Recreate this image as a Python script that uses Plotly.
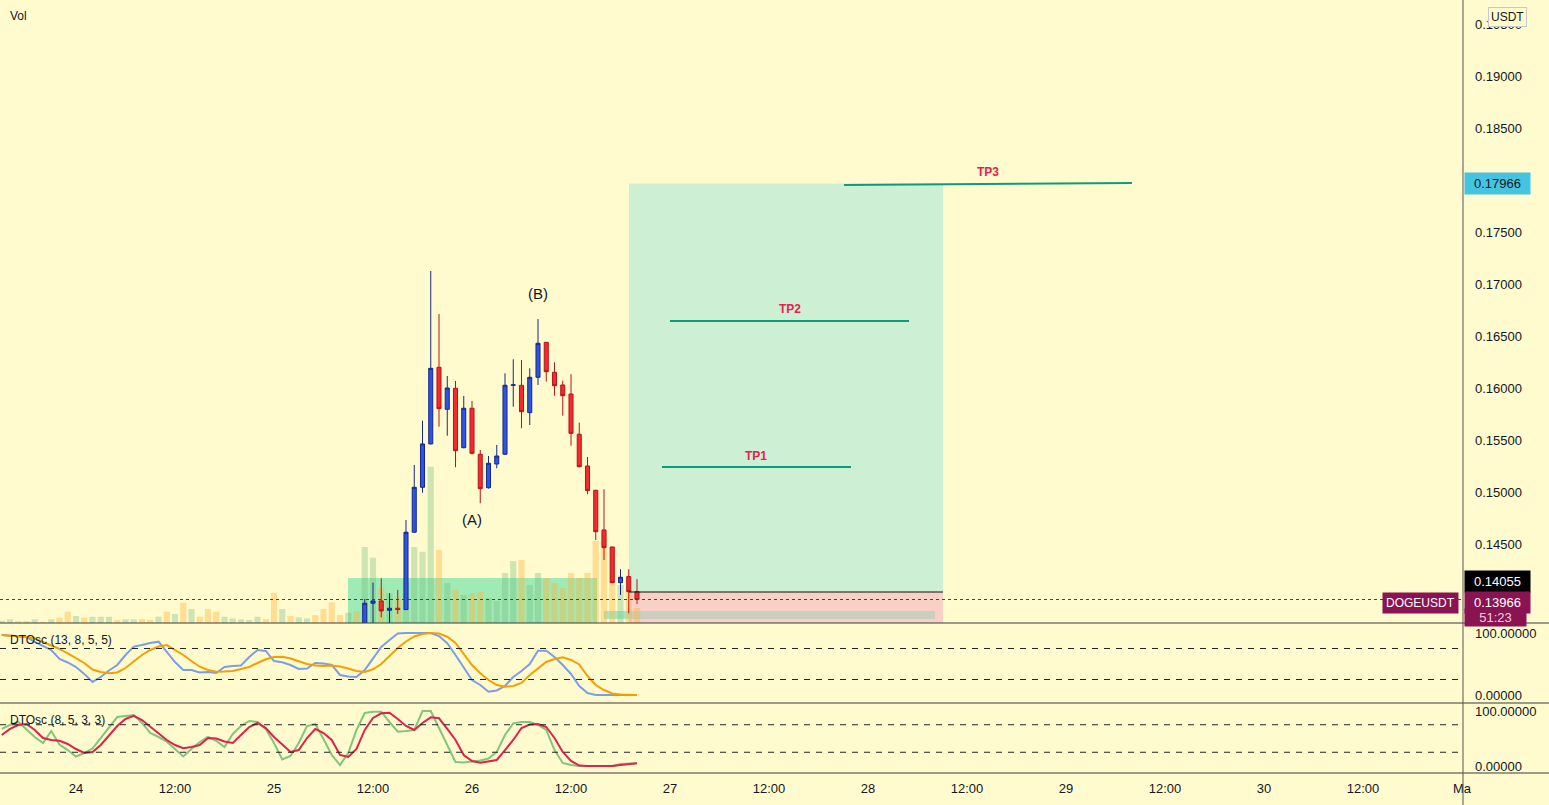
import pandas as pd
import plotly.graph_objects as go

# ---------------- data ----------------
BASE = pd.Timestamp("2024-04-24 00:00")
vol_hours = list(range(-9, 69))          # hourly bars visible on screen
times_all = [BASE + pd.Timedelta(hours=h) for h in vol_hours]

volume = [2.3, 3.7, 2.0, 2.0, 3.7, 1.3, 3.7, 5.3, 11.3,
          7.0, 5.3, 6.3, 6.3, 6.3, 3.0, 3.7, 3.7, 4.0, 3.0,
          6.3, 11.3, 9.0, 20.3, 14.0, 6.3, 14.0, 11.3, 6.3, 4.7,
          3.7, 3.0, 6.3, 4.0, 30.3, 14.0, 7.0, 5.7, 4.7, 8.0,
          14.0, 20.7, 8.0, 10.3, 12.0, 76.0, 65.3, 35.0, 30.0, 25.0,
          40.0, 76.0, 71.3, 156.3, 73.0, 40.0, 33.0, 28.0, 30.0, 31.0,
          25.0, 22.0, 50.0, 62.0, 63.0, 38.0, 50.0, 45.0, 40.0, 35.0,
          50.0, 45.0, 50.0, 82.0, 90.0, 76.0, 38.0, 33.0, 15.0]
vol_dir = ["u", "u", "d", "d", "u", "d", "u", "d", "d",
           "u", "d", "u", "u", "u", "d", "u", "u", "d", "d",
           "u", "d", "u", "d", "u", "d", "d", "d", "u", "u",
           "u", "u", "u", "d", "d", "u", "d", "u", "u", "d",
           "d", "d", "d", "u", "d", "u", "u", "d", "u", "d",
           "u", "u", "u", "u", "d", "u", "d", "u", "d", "d",
           "u", "u", "u", "u", "d", "u", "u", "d", "d", "d",
           "d", "d", "d", "d", "d", "d", "u", "d", "d"]

candle_times = times_all[44:]            # 25th 11:00 .. 26th 20:00
c_open = [0.13700, 0.13930, 0.13952, 0.13862, 0.13882, 0.13869, 0.14613, 0.15045, 0.15462,
          0.16199, 0.15795, 0.15997, 0.15426, 0.15805, 0.15363, 0.15041, 0.15269, 0.15363,
          0.16026, 0.16026, 0.15763, 0.16103, 0.16439, 0.16151, 0.16029, 0.15942, 0.15555,
          0.15250, 0.15016, 0.14635, 0.14471, 0.14128, 0.14186, 0.14042]
c_high = [0.13971, 0.14128, 0.14170, 0.14026, 0.14058, 0.14731, 0.15260, 0.15686, 0.17125,
          0.16712, 0.16115, 0.16067, 0.15923, 0.15875, 0.15404, 0.15346, 0.15452, 0.16141,
          0.16276, 0.16269, 0.16189, 0.16663, 0.16442, 0.16247, 0.16070, 0.16132, 0.15667,
          0.15337, 0.15020, 0.15026, 0.14475, 0.14257, 0.14257, 0.14161]
c_low = [0.13650, 0.13700, 0.13795, 0.13720, 0.13827, 0.13865, 0.14610, 0.14993, 0.15459,
         0.15628, 0.15541, 0.15238, 0.15420, 0.15360, 0.14891, 0.15032, 0.15228, 0.15356,
         0.15820, 0.15613, 0.15644, 0.16029, 0.16061, 0.15926, 0.15734, 0.15445, 0.15236,
         0.14978, 0.14538, 0.14346, 0.14122, 0.14010, 0.13833, 0.13923]
c_close = [0.13930, 0.13952, 0.13856, 0.13882, 0.13869, 0.14613, 0.15045, 0.15462, 0.16189,
           0.15801, 0.16000, 0.15397, 0.15805, 0.15372, 0.15032, 0.15276, 0.15346, 0.16026,
           0.16030, 0.15772, 0.16103, 0.16430, 0.16157, 0.16022, 0.15926, 0.15564, 0.15243,
           0.15013, 0.14618, 0.14465, 0.14128, 0.14180, 0.14042, 0.13966]

dto1_k = [96.8, 96, 95, 93.5, 85.5, 79, 72.6, 58, 52.4,
          45, 34, 21, 29, 39.5, 48.4, 64.5, 78, 80.6, 84,
          86, 69.4, 53.2, 40.3, 40.3, 36.3, 37, 35.5, 45.2, 46.8,
          47.6, 61.3, 72.6, 71, 54.8, 52.7, 48.4, 42, 42.7, 51.6,
          50.8, 48.4, 32.3, 29.8, 29, 40.3, 59.7, 77.4, 88.7, 99.2,
          100, 100, 100, 100, 95, 83.4, 64.5, 43.5, 24.2, 16.1,
          5.3, 7.3, 14.5, 29, 38.7, 50, 71.5, 71.5, 61.3, 48.4,
          33.9, 14.5, 3.2, 0, 0, 0, 0, 0, 0]
dto1_d = [96.8, 96, 95, 93.5, 91, 85.5, 80.6, 74.2, 67,
          59.7, 51.6, 41, 37, 35, 36.3, 43.5, 53.7, 64.5, 72.6,
          78.2, 80.6, 72.6, 64.5, 54.8, 45.6, 40.3, 37.6, 37.9, 38.7,
          42, 45.2, 51.6, 57.6, 61.3, 61.8, 58.9, 54, 50, 47.6,
          46.8, 47.6, 46, 42.7, 38.7, 37, 41.5, 50, 63, 75.8,
          86.3, 94.4, 98.4, 100, 99.2, 94, 83.9, 67, 48.4, 35,
          24.2, 16.1, 13.4, 14.5, 19.4, 32.3, 43.5, 53.2, 58, 60.8,
          56.5, 49.2, 30.6, 16.1, 8, 2.4, 0.8, 0, 0]
dto2_k = [67.3, 74.5, 80, 66.4, 52.7, 41.8, 63.6, 39, 29,
          17.3, 23.6, 31.8, 51, 69, 89, 91, 92.7, 78.2, 60,
          52.7, 44.2, 30.9, 17.3, 30.9, 43.6, 52.7, 45.5, 34.5, 58.2,
          72.7, 81.8, 80, 67.3, 41.8, 11.8, 18.2, 41.8, 72.7, 76.4,
          49, 20, 1.8, 23.6, 65.5, 96.4, 98.7, 98.7, 80, 62.4,
          63.6, 65.5, 100, 100, 69, 38.2, 7.3, 6.4, 8.2, 10,
          13.6, 25.5, 56.4, 77.6, 80, 80, 74.5, 65.5, 29, 5.5,
          1.8, 0, 0, 0, 0, 0, 3.6, 4.9, 4.9]
dto2_d = [56.4, 67.3, 74.5, 76.4, 65.5, 50.9, 47.3, 46, 40,
          30.9, 23.6, 25.5, 38.2, 56.4, 72.7, 85.5, 91, 83.6, 71.5,
          60, 47.3, 38.2, 32.2, 34.5, 38.2, 50.9, 50, 44.5, 41.8,
          56.4, 70.9, 78.2, 69, 52.7, 38.2, 25.5, 29, 50.9, 67.3,
          60, 47.3, 20, 16.4, 30.9, 65.5, 87.3, 95.8, 96.9, 85.5,
          72.7, 65.5, 78.2, 88.5, 86.7, 67.3, 47.3, 20, 9.1, 6,
          8.2, 10.9, 29, 47.3, 69, 75.5, 76.4, 70.9, 50.9, 25.5,
          9.1, 0.9, 0, 0, 0, 0, 1.8, 3.6, 4.9]

# 0.18000 is hidden behind the 0.17966 marker in the reference, so it is not listed
price_ticks = [0.145, 0.150, 0.155, 0.160, 0.165, 0.170, 0.175, 0.185, 0.190, 0.195]
x_tick_hours = [0, 12, 24, 36, 48, 60, 72, 84, 96, 108, 120, 132, 144, 156, 168]
x_tick_text = ["24", "12:00", "25", "12:00", "26", "12:00", "27", "12:00",
               "28", "12:00", "29", "12:00", "30", "12:00", "Ma"]

LAST_PRICE = 0.13966
ENTRY_LABEL = 0.14055
TARGET = 0.17966
ENTRY = 0.14038
STOP = 0.13600
TP1, TP2 = 0.15240, 0.16644
TP3_A, TP3_B = 0.17952, 0.17971

# ---------------- styling / layout ----------------
W, H = 1549, 805
BG = "#fffbcf"
TXT = "#131722"
FONT = "Liberation Sans"
XR = 1463 / W


def T(h):
    return str(BASE + pd.Timedelta(hours=h))


def py(px):
    return 1 - px / H


x_range = [T(-76 / 8.25), T((1463 - 76) / 8.25)]
D_MAIN = [py(623), 1]
D_OSC1 = [py(703), py(623)]
D_OSC2 = [py(773), py(703)]

fig = go.Figure()

vol_colors = ["rgba(120,190,130,0.36)" if d == "u" else "rgba(255,178,60,0.42)" for d in vol_dir]
fig.add_trace(go.Bar(x=times_all, y=volume, marker=dict(color=vol_colors, line=dict(width=0)),
                     xaxis="x", yaxis="y", hoverinfo="skip"))

fig.add_trace(go.Candlestick(
    x=candle_times, open=c_open, high=c_high, low=c_low, close=c_close,
    xaxis="x", yaxis="y2", whiskerwidth=0,
    increasing=dict(line=dict(color="#16288a", width=1), fillcolor="#2d55e2"),
    decreasing=dict(line=dict(color="#b3161b", width=1), fillcolor="#f42a2e"),
    hoverinfo="skip"))

fig.add_trace(go.Scatter(x=times_all, y=dto1_k, mode="lines", xaxis="x2", yaxis="y3",
                         line=dict(color="#7b9ee6", width=2)))
fig.add_trace(go.Scatter(x=times_all, y=dto1_d, mode="lines", xaxis="x2", yaxis="y3",
                         line=dict(color="#f5a000", width=2)))
fig.add_trace(go.Scatter(x=times_all, y=dto2_k, mode="lines", xaxis="x3", yaxis="y4",
                         line=dict(color="#80c67a", width=2)))
fig.add_trace(go.Scatter(x=times_all, y=dto2_d, mode="lines", xaxis="x3", yaxis="y4",
                         line=dict(color="#e2204c", width=2)))

shapes = []
# long position tool
shapes.append(dict(type="rect", xref="x", yref="y2", x0=T(67.03), x1=T(105.09), y0=ENTRY, y1=TARGET,
                   fillcolor="#cdf0d5", line=dict(width=0), layer="below"))
shapes.append(dict(type="rect", xref="x", yref="y2", x0=T(67.03), x1=T(105.09), y0=STOP, y1=ENTRY,
                   fillcolor="#f8d0c6", line=dict(width=0), layer="below"))
# consolidation box
shapes.append(dict(type="rect", xref="x", yref="y2", x0=T(32.97), x1=T(63.15), y0=STOP, y1=0.14173,
                   fillcolor="rgba(80,220,160,0.55)", line=dict(width=0), layer="below"))
shapes.append(dict(type="rect", xref="x", yref="y2", x0=T(64.0), x1=T(67.03), y0=0.13779, y1=0.13856,
                   fillcolor="#a6e8c4", line=dict(width=0), layer="below"))
shapes.append(dict(type="rect", xref="x", yref="y2", x0=T(67.03), x1=T(104.12), y0=0.13779, y1=0.13856,
                   fillcolor="#cbcdbf", line=dict(width=0), layer="below"))
shapes.append(dict(type="line", xref="x", yref="y2", x0=T(67.03), x1=T(105.09), y0=ENTRY, y1=ENTRY,
                   line=dict(color="#111111", width=1.2), layer="above"))
# TP lines
tp_col = "#0f9a7c"
shapes.append(dict(type="line", xref="x", yref="y2", x0=T(71.03), x1=T(93.94), y0=TP1, y1=TP1,
                   line=dict(color=tp_col, width=2)))
shapes.append(dict(type="line", xref="x", yref="y2", x0=T(72.0), x1=T(100.97), y0=TP2, y1=TP2,
                   line=dict(color=tp_col, width=2)))
shapes.append(dict(type="line", xref="x", yref="y2", x0=T(93.1), x1=T(128.0), y0=TP3_A, y1=TP3_B,
                   line=dict(color=tp_col, width=2)))
# last price dotted line
shapes.append(dict(type="line", xref="paper", yref="y2", x0=0, x1=XR, y0=LAST_PRICE, y1=LAST_PRICE,
                   line=dict(color="#444444", width=1, dash="dot"), layer="above"))
# oscillator bands
for yr in ["y3", "y4"]:
    for lv in [75, 25]:
        shapes.append(dict(type="line", xref="paper", yref=yr, x0=0, x1=XR, y0=lv, y1=lv,
                           line=dict(color="#222222", width=1, dash="6px,6px")))
# pane separators and price-scale border
for ypx in [623, 703, 773]:
    shapes.append(dict(type="line", xref="paper", yref="paper", x0=0, x1=1, y0=py(ypx), y1=py(ypx),
                       line=dict(color="#3a3a3a", width=1), layer="above"))
shapes.append(dict(type="line", xref="paper", yref="paper", x0=XR, x1=XR, y0=0, y1=1,
                   line=dict(color="#555555", width=1), layer="above"))

ann = []


def label(text, x, y, xref="paper", yref="paper", size=13, color=TXT, bold=False,
          xanchor="center", yanchor="middle", **kw):
    d = dict(text=f"<b>{text}</b>" if bold else text, x=x, y=y, xref=xref, yref=yref, showarrow=False,
             xanchor=xanchor, yanchor=yanchor, font=dict(family=FONT, size=size, color=color))
    d.update(kw)
    ann.append(d)


label("Vol", 8 / W, py(16), size=12, xanchor="left")
label("DTOsc (13, 8, 5, 5)", 8 / W, py(640), size=12, xanchor="left")
label("DTOsc (8, 5, 3, 3)", 8 / W, py(720), size=12, xanchor="left")
label("(A)", T(48.0), 0.14731, xref="x", yref="y2", size=15)
label("(B)", T(56.0), 0.16913, xref="x", yref="y2", size=15)
tp_txt = "#e8204f"
label("TP1", T(82.42), 0.15346, xref="x", yref="y2", size=12, color=tp_txt, bold=True)
label("TP2", T(86.55), 0.16760, xref="x", yref="y2", size=12, color=tp_txt, bold=True)
label("TP3", T(110.55), 0.18077, xref="x", yref="y2", size=12, color=tp_txt, bold=True)

label("USDT", 1507 / W, py(17), size=12, bgcolor=BG, bordercolor="#c9c9c9", borderwidth=1, borderpad=2)
label("0.17966", 1464 / W, TARGET, yref="y2", xanchor="left", bgcolor="#45c4e2", width=59, borderpad=3)
label("0.14055", 1464 / W, py(581), xanchor="left", bgcolor="#000000", color="#ffffff", width=59, borderpad=3)
label("0.13966", 1464 / W, py(602.5), xanchor="left", bgcolor="#8a1352", color="#ffffff", width=59, borderpad=3)
label("51:23", 1464 / W, py(617), xanchor="left", bgcolor="#8a1352", color="#f3d0e0", width=59, borderpad=1)
label("DOGEUSDT", 1420 / W, py(602.5), bgcolor="#8a1352", color="#ffffff", borderpad=3, size=12)

axis_common = dict(showgrid=False, zeroline=False, fixedrange=True, automargin=False)
tick_font = dict(family=FONT, size=13, color=TXT)

fig.update_layout(
    width=W, height=H, margin=dict(l=0, r=0, t=0, b=0, autoexpand=False),
    paper_bgcolor=BG, plot_bgcolor=BG, showlegend=False, bargap=0.25,
    shapes=shapes, annotations=ann,
    xaxis=dict(domain=[0, XR], range=x_range, type="date", anchor="y", showticklabels=False,
               rangeslider=dict(visible=False), **axis_common),
    xaxis2=dict(domain=[0, XR], range=x_range, type="date", anchor="y3", matches="x",
                showticklabels=False, **axis_common),
    xaxis3=dict(domain=[0, XR], range=x_range, type="date", anchor="y4", matches="x",
                tickvals=[T(h) for h in x_tick_hours], ticktext=x_tick_text, ticks="",
                tickfont=tick_font, ticklabelstandoff=6, **axis_common),
    yaxis=dict(domain=D_MAIN, range=[0, 623], visible=False, anchor="x", **axis_common),
    yaxis2=dict(overlaying="y", side="right", anchor="x", range=[0.13740, 0.19731],
                tickvals=price_ticks, tickformat=".5f", ticks="", ticklabelstandoff=11,
                tickfont=tick_font, **axis_common),
    yaxis3=dict(domain=D_OSC1, range=[-12.9, 116.1], side="right", anchor="x2",
                tickvals=[0, 100], ticktext=["0.00000", "100.00000"], ticks="",
                ticklabelstandoff=11, tickfont=tick_font, **axis_common),
    yaxis4=dict(domain=D_OSC2, range=[-12.7, 114.5], side="right", anchor="x3",
                tickvals=[0, 100], ticktext=["0.00000", "100.00000"], ticks="",
                ticklabelstandoff=11, tickfont=tick_font, **axis_common),
)

fig.write_html("out.html", config={"displayModeBar": False})
